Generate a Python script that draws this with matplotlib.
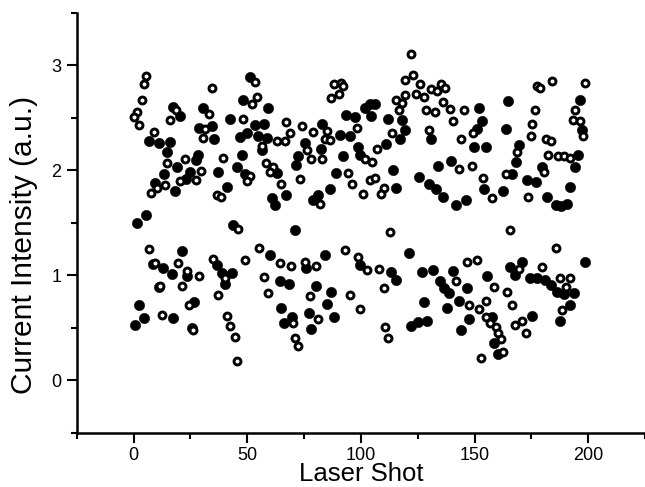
import matplotlib
matplotlib.use("Agg")
import matplotlib.pyplot as plt
from matplotlib.ticker import MultipleLocator

# Filled-circle series (shot, intensity)
filled_x = [17.3, 20.5, 30.4, 42.4, 48.2, 46.8, 6.6, 11.4, 16.1, 14.6, 28.9, 34.4, 35.4, 28.5, 27.5,
            47.5, 19.3, 24.9, 13.5, 23.1, 9.5, 37.3, 45.3, 40.9, 18.3, 5.6,
            1.5, 21.2, 8.5, 12.9, 16.8, 23.4, 11.0, 2.2, 4.4, 0.7, 17.5, 25.6, 26.6, 36.5, 38.7,
            43.1, 40.2, 43.9,
            51.2, 59.2, 53.4, 57.3, 49.7, 54.8, 58.5, 56.3, 75.3, 72.4, 71.6, 82.6, 83.0, 92.1,
            93.6, 97.2, 101.6, 90.6, 95.0, 98.7, 99.4, 89.2, 62.9, 61.1, 62.1, 67.2, 78.9, 81.1,
            86.3, 49.0,
            70.9, 60.2, 64.3, 68.4, 84.1, 76.0, 80.1, 87.0, 85.1, 88.0, 65.0, 66.1, 69.9, 77.2,
            78.2, 99.4,
            103.8, 106.0, 104.5, 111.8, 118.1, 119.2, 117.0, 111.1, 130.8, 151.8, 153.5, 151.3,
            149.9, 155.0, 114.0, 133.8, 139.6, 125.7, 130.1, 133.0, 136.0, 141.8, 146.2, 115.5,
            154.3,
            121.1, 113.3, 115.5, 126.9, 131.9, 134.8, 136.7, 138.6, 140.6, 146.9, 143.0, 137.7,
            127.9, 128.9, 125.0, 122.1, 147.7, 144.0, 155.7,
            164.9, 196.6, 163.7, 197.4, 169.6, 168.1, 195.6, 194.4, 179.5, 166.7, 173.2, 176.9,
            192.2, 162.6, 182.0, 185.7, 190.8, 187.9,
            170.8, 165.5, 167.8, 174.3, 177.6, 181.0, 183.5, 186.4, 189.3, 193.7, 191.8, 187.4,
            198.5, 175.4, 157.6, 158.6, 160.5]
filled_y = [2.60, 2.52, 2.59, 2.49, 2.67, 2.32, 2.28, 2.26, 2.27, 2.17, 2.40, 2.42, 2.30, 2.15, 2.10,
            2.15, 2.03, 1.98, 1.96, 1.92, 1.88, 1.98, 2.03, 1.84, 1.80, 1.57,
            1.50, 1.23, 1.11, 1.07, 1.01, 0.99, 0.89, 0.72, 0.59, 0.53, 0.59, 0.50, 0.75, 1.10, 1.02,
            1.02, 0.92, 1.48,
            2.89, 2.59, 2.43, 2.44, 2.35, 2.33, 2.31, 2.19, 2.26, 2.14, 2.05, 2.20, 2.44, 2.14,
            2.53, 2.51, 2.59, 2.34, 2.33, 2.22, 2.15, 1.97, 1.97, 1.74, 1.67, 1.76, 1.72, 1.76,
            1.82, 1.96,
            1.43, 1.19, 0.95, 0.92, 1.19, 1.07, 0.90, 0.84, 0.73, 0.60, 0.69, 0.55, 0.60, 0.64,
            0.49, 1.10,
            2.63, 2.63, 2.52, 2.49, 2.48, 2.38, 2.30, 2.25, 2.30, 2.59, 2.47, 2.39,
            2.22, 2.22, 2.00, 2.04, 2.09, 1.94, 1.87, 1.82, 1.75, 1.67, 1.72, 1.83,
            1.82,
            1.21, 1.03, 0.96, 1.03, 1.05, 0.95, 0.88, 0.83, 1.04, 0.88, 0.76, 0.69,
            0.75, 0.57, 0.56, 0.52, 0.58, 0.48, 0.99,
            2.66, 2.67, 2.39, 2.38, 2.24, 2.08, 2.15, 2.03, 2.03, 1.96, 1.91, 1.89,
            1.84, 1.80, 1.75, 1.67, 1.68, 1.66,
            1.13, 1.08, 1.00, 0.97, 0.97, 0.96, 0.91, 0.84, 0.82, 0.83, 0.72, 0.57,
            1.13, 0.61, 0.60, 0.36, 0.25]

# Open-circle series (shot, intensity)
open_x = [5.6, 4.7, 3.7, 1.5, 0.0, 2.3, 34.4, 8.8, 18.7, 16.1, 33.3, 31.4, 30.4, 48.2, 22.7, 14.6,
          39.5, 29.5, 27.5, 20.5, 13.9, 10.5, 7.6, 36.5, 38.5,
          6.6, 9.5, 19.7, 23.4, 28.9, 21.2, 11.7, 35.1, 40.2, 37.3, 24.6, 12.4, 41.2, 42.4, 44.6,
          45.3, 49.0, 26.0, 46.1,
          53.4, 54.4, 52.3, 67.2, 68.7, 74.3, 78.9, 62.9, 66.5, 56.3, 58.2, 61.4, 60.2, 65.0,
          51.2, 50.0, 76.3, 78.2, 83.0, 85.1, 84.1, 86.5, 88.0, 91.4, 92.1, 90.2, 87.0, 98.2,
          73.1, 94.3, 96.2, 100.9, 101.6, 82.2,
          55.3, 64.3, 69.4, 75.3, 80.1, 57.3, 59.2, 77.5, 81.1, 70.2, 70.9, 72.4, 92.8, 98.7,
          95.0, 99.7, 102.6,
          122.1, 122.8, 119.6, 126.0, 124.3, 127.9, 130.8, 133.3, 135.2, 137.1, 119.2, 115.5,
          118.1, 116.7, 128.6, 132.7, 136.0, 139.2, 140.4, 145.5, 129.8, 113.7, 144.0, 149.4,
          107.0, 105.0, 148.8, 143.0, 104.1, 106.4, 110.0, 108.9, 153.8,
          112.9, 107.9, 110.0, 110.8, 111.8, 141.8, 146.5, 150.9, 147.7, 151.8, 155.0, 155.0,
          152.8,
          184.2, 198.5, 177.6, 178.6, 176.6, 175.4, 174.7, 194.4, 193.3, 196.6, 197.7, 181.3,
          183.5, 182.5, 186.8, 189.3, 191.8, 168.9, 163.7, 180.6, 157.9, 173.7,
          165.5, 185.7, 179.5, 169.6, 187.4, 192.2, 190.4, 158.6, 164.5, 166.7, 188.6, 156.7,
          159.6, 160.5, 161.5, 162.6, 171.1, 167.8, 172.5]
open_y = [2.90, 2.82, 2.67, 2.55, 2.51, 2.43, 2.78, 2.36, 2.57, 2.48, 2.54, 2.39, 2.31, 2.49, 2.11, 2.07,
          2.12, 1.99, 1.91, 1.90, 1.86, 1.83, 1.78, 1.76, 1.75,
          1.25, 1.12, 1.12, 1.04, 0.99, 0.90, 0.90, 1.16, 0.97, 0.81, 0.72, 0.62, 0.61, 0.52, 0.41,
          0.18, 1.15, 0.48, 1.44,
          2.84, 2.70, 2.63, 2.46, 2.35, 2.42, 2.36, 2.28, 2.28, 2.23, 2.07, 2.03, 1.98, 1.87,
          1.95, 1.90, 2.19, 2.11, 2.11, 2.37, 2.30, 2.29, 2.82, 2.83, 2.80, 2.73, 2.69, 2.40,
          1.92, 1.97, 1.87, 1.77, 2.11, 1.68,
          1.26, 1.12, 1.09, 1.13, 1.09, 0.98, 0.83, 0.80, 0.58, 0.55, 0.40, 0.33, 1.24, 1.17,
          0.81, 0.68, 1.05,
          3.11, 2.91, 2.86, 2.82, 2.73, 2.70, 2.77, 2.75, 2.82, 2.78, 2.72, 2.67,
          2.64, 2.57, 2.57, 2.55, 2.65, 2.58, 2.47, 2.57, 2.38, 2.35, 2.30, 2.35,
          2.20, 2.08, 2.04, 2.01, 1.91, 1.93, 1.83, 1.77, 1.93,
          1.41, 1.06, 0.88, 0.51, 0.40, 0.95, 1.13, 1.15, 0.72, 0.68, 0.76, 0.60,
          0.21,
          2.85, 2.83, 2.80, 2.78, 2.57, 2.44, 2.33, 2.57, 2.48, 2.47, 2.33, 2.30,
          2.28, 2.15, 2.14, 2.14, 2.12, 2.17, 1.96, 1.98, 1.74, 1.75,
          1.43, 1.26, 1.08, 1.06, 0.97, 0.97, 0.89, 0.89, 0.84, 0.72, 0.67, 0.55,
          0.51, 0.45, 0.39, 0.27, 0.57, 0.53, 0.45]

x_ticks = [0, 50, 100, 150, 200]
y_ticks = [0, 1, 2, 3]

plt.rcParams['font.family'] = ['Liberation Sans', 'DejaVu Sans']

fig = plt.figure(figsize=(6.45, 4.87), dpi=100)
ax = fig.add_axes([0.119, 0.111, 0.881, 0.863])

ax.plot(filled_x, filled_y, linestyle='none', marker='o', markersize=7.4,
        markerfacecolor='black', markeredgecolor='black', markeredgewidth=0.4)
ax.plot(open_x, open_y, linestyle='none', marker='o', markersize=5.0,
        markerfacecolor='white', markeredgecolor='black', markeredgewidth=2.1)

ax.set_xlim(-25, 225)
ax.set_ylim(-0.5, 3.5)
ax.set_xticks(x_ticks)
ax.set_yticks(y_ticks)
ax.xaxis.set_minor_locator(MultipleLocator(25))
ax.yaxis.set_minor_locator(MultipleLocator(0.5))

for s in ['top', 'right']:
    ax.spines[s].set_visible(False)
for s in ['left', 'bottom']:
    ax.spines[s].set_linewidth(1.8)

ax.tick_params(which='major', direction='out', length=7, width=1.5, labelsize=13, pad=3)
ax.tick_params(which='minor', direction='out', length=4.5, width=1.5)
ax.tick_params(axis='y', which='major', pad=4)

ax.set_xlabel('Laser Shot', fontsize=18.5, labelpad=-1)
ax.set_ylabel('Current Intensity (a.u.)', fontsize=21.5)
ax.yaxis.set_label_coords(-0.068, 0.447)

fig.savefig('out.png', dpi=100)
